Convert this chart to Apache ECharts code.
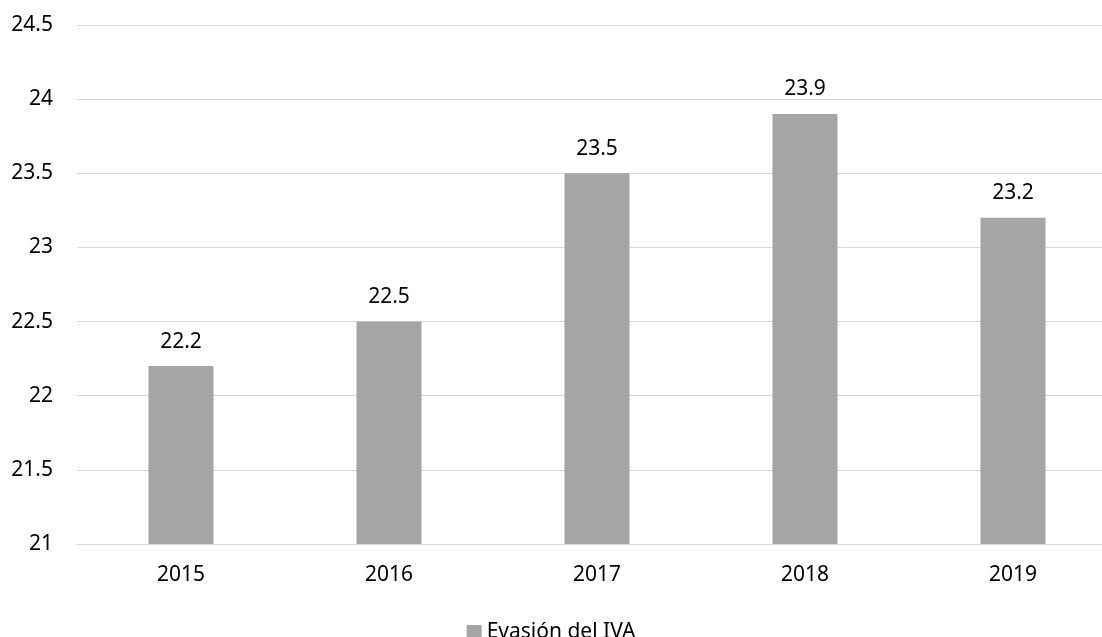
<!DOCTYPE html>
<html>
<head>
<meta charset="utf-8">
<title>Evasión del IVA</title>
<script src="https://cdn.jsdelivr.net/npm/echarts@6/dist/echarts.min.js"></script>
<style>
  html, body { margin: 0; padding: 0; background: #fff; }
  #chart { width: 1102px; height: 637px; }
</style>
</head>
<body>
<div id="chart"></div>
<script>
// data
const years = ['2015', '2016', '2017', '2018', '2019'];
const evasionIva = [22.2, 22.5, 23.5, 23.9, 23.2];
const seriesName = 'Evasión del IVA';

const chart = echarts.init(document.getElementById('chart'));
const font = '"Noto Sans", "Open Sans", sans-serif';
const fs = 21;

const option = {
  animation: false,
  textStyle: { fontFamily: font },
  grid: {
    left: 77,
    top: 25,
    width: 1040,
    bottom: 93,
    // the plot runs past the right edge of the picture
    outerBoundsMode: 'none'
  },
  legend: {
    top: 617,
    left: 'center',
    icon: 'rect',
    itemWidth: 15,
    itemHeight: 15,
    itemGap: 6,
    textStyle: { fontFamily: font, fontSize: fs, color: '#000' },
    data: [seriesName]
  },
  xAxis: {
    type: 'category',
    data: years,
    axisLine: { lineStyle: { color: '#d9d9d9', width: 1 } },
    axisTick: { show: false },
    axisLabel: { margin: 21, fontSize: fs, color: '#000', fontFamily: font }
  },
  yAxis: {
    type: 'value',
    min: 21,
    max: 24.5,
    interval: 0.5,
    axisLine: { show: false },
    axisTick: { show: false },
    splitLine: { lineStyle: { color: '#d9d9d9', width: 1 } },
    axisLabel: { margin: 24, fontSize: fs, color: '#000', fontFamily: font }
  },
  series: [
    {
      name: seriesName,
      type: 'bar',
      data: evasionIva,
      barWidth: 65,
      itemStyle: { color: '#a5a5a5' },
      label: {
        show: true,
        position: 'top',
        distance: 14,
        fontSize: fs,
        color: '#000',
        fontFamily: font
      }
    }
  ]
};

chart.setOption(option);
</script>
</body>
</html>
